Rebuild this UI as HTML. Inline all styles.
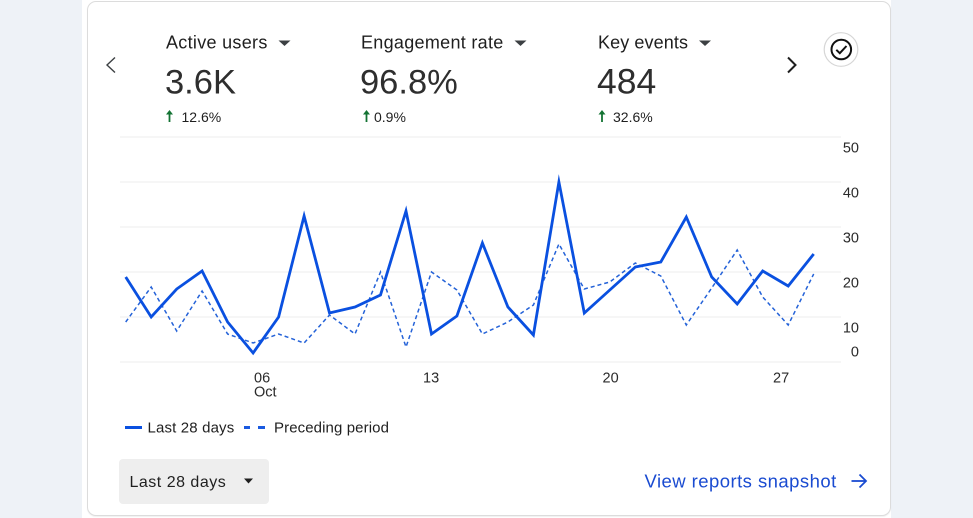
<!DOCTYPE html>
<html>
<head>
<meta charset="utf-8">
<style>
  html,body{margin:0;padding:0;}
  body{width:973px;height:518px;background:#eef2f7;position:relative;overflow:hidden;font-family:"Liberation Sans",Arial,sans-serif;}
  .strip{position:absolute;left:82px;top:0;width:809px;height:518px;background:#ffffff;}
  .card{position:absolute;left:87px;top:1px;width:802px;height:513px;border:1px solid #dcdcdc;border-radius:9px;background:#fff;box-shadow:0 1px 1px rgba(0,0,0,0.06);}
  svg{position:absolute;left:0;top:0;}
  text{font-family:"Liberation Sans",Arial,sans-serif;}
</style>
</head>
<body>
<div class="strip"></div>
<div class="card"></div>
<svg width="973" height="518" viewBox="0 0 973 518" xmlns="http://www.w3.org/2000/svg">
  <!-- nav chevrons -->
  <polyline points="115,57.5 107,65 115,72.5" fill="none" stroke="#3c4043" stroke-width="1.4"/>
  <polyline points="788,57.5 795.5,65 788,72.5" fill="none" stroke="#1f1f1f" stroke-width="2"/>

  <!-- check icon -->
  <circle cx="841" cy="49.5" r="16.8" fill="#fff" stroke="#d6d6d6" stroke-width="1.2"/>
  <circle cx="841.3" cy="49.5" r="9.8" fill="none" stroke="#111" stroke-width="2"/>
  <polyline points="836.3,49.8 839.8,53.2 846.5,46" fill="none" stroke="#111" stroke-width="2"/>

  <!-- metric headers -->
  <text x="166" y="48.5" font-size="18" fill="#1f1f1f" letter-spacing="0.3">Active users</text>
  <polygon points="278.5,40.5 290.5,40.5 284.5,46" fill="#3c4043"/>
  <text x="361" y="48.5" font-size="18" fill="#1f1f1f" letter-spacing="0.3">Engagement rate</text>
  <polygon points="514.5,40.5 526.5,40.5 520.5,46" fill="#3c4043"/>
  <text x="598" y="48.5" font-size="18" fill="#1f1f1f" letter-spacing="0.1">Key events</text>
  <polygon points="699,40.5 711,40.5 705,46" fill="#3c4043"/>

  <!-- values -->
  <text x="165" y="93.5" font-size="34.5" fill="#2e2e2e">3.6K</text>
  <text x="360" y="93.5" font-size="34.5" fill="#2e2e2e">96.8%</text>
  <text x="597" y="93.5" font-size="35.5" fill="#2e2e2e">484</text>

  <!-- changes -->
  <g fill="#137333" stroke="#137333">
    <line x1="169.5" y1="113" x2="169.5" y2="122" stroke-width="1.8"/>
    <polygon points="166,114.5 173,114.5 169.5,110" stroke="none"/>
    <line x1="366.5" y1="113" x2="366.5" y2="122" stroke-width="1.8"/>
    <polygon points="363,114.5 370,114.5 366.5,110" stroke="none"/>
    <line x1="602" y1="113" x2="602" y2="122" stroke-width="1.8"/>
    <polygon points="598.5,114.5 605.5,114.5 602,110" stroke="none"/>
  </g>
  <text x="181.5" y="122" font-size="14" fill="#1f1f1f">12.6%</text>
  <text x="374" y="122" font-size="14" fill="#1f1f1f">0.9%</text>
  <text x="613" y="122" font-size="14" fill="#1f1f1f">32.6%</text>

  <!-- gridlines -->
  <g stroke="#eeeeee" stroke-width="1">
    <line x1="120" y1="137" x2="841" y2="137"/>
    <line x1="120" y1="182" x2="841" y2="182"/>
    <line x1="120" y1="227" x2="841" y2="227"/>
    <line x1="120" y1="272" x2="841" y2="272"/>
    <line x1="120" y1="317" x2="841" y2="317"/>
    <line x1="120" y1="362" x2="841" y2="362"/>
  </g>

  <!-- y labels -->
  <g font-size="14.5" fill="#2a2a2a" text-anchor="end">
    <text x="859" y="152.5">50</text>
    <text x="859" y="197.5">40</text>
    <text x="859" y="242.5">30</text>
    <text x="859" y="287.5">20</text>
    <text x="859" y="332.5">10</text>
    <text x="859" y="356.5">0</text>
  </g>

  <!-- x labels -->
  <g font-size="14.5" fill="#2a2a2a">
    <text x="254" y="382.5">06</text>
    <text x="254" y="396.5">Oct</text>
    <text x="423" y="382.5">13</text>
    <text x="602.5" y="382.5">20</text>
    <text x="773" y="382.5">27</text>
  </g>

  <!-- series -->
  <polyline fill="none" stroke="#2462d8" stroke-width="1.5" stroke-dasharray="4,3"
    points="125.7,322 151.2,287 176.7,331 202.1,291 227.6,334 253.1,343 278.6,334 304.1,343 329.5,315 355,334 380.5,272 406,347 431.5,272 456.9,290 482.4,334 507.9,322 533.4,305 558.9,244 584.3,289 609.8,282 635.3,263 660.8,276 686.3,325 711.7,288 737.2,250 762.7,297 788.2,325 813.7,274"/>
  <polyline fill="none" stroke="#0a50e0" stroke-width="2.8" stroke-linejoin="miter" stroke-miterlimit="10"
    points="125.7,277 151.2,317 176.7,289 202.1,271 227.6,322 253.1,353 278.6,317 304.1,216 329.5,313 355,307 380.5,295 406,211 431.5,334 456.9,316 482.4,243 507.9,307 533.4,335 558.9,182 584.3,313 609.8,290 635.3,267 660.8,262 686.3,217 711.7,277 737.2,304 762.7,271 788.2,286 813.7,254"/>

  <!-- legend -->
  <line x1="125" y1="427.5" x2="142" y2="427.5" stroke="#0a50e0" stroke-width="3"/>
  <text x="147.5" y="432.5" font-size="15" fill="#1f1f1f" letter-spacing="0.15">Last 28 days</text>
  <line x1="244" y1="427.5" x2="250" y2="427.5" stroke="#1a5ae0" stroke-width="3"/>
  <line x1="258" y1="427.5" x2="265" y2="427.5" stroke="#1a5ae0" stroke-width="3"/>
  <text x="274" y="432.5" font-size="15" fill="#1f1f1f" letter-spacing="0.1">Preceding period</text>

  <!-- button -->
  <rect x="119" y="459" width="150" height="45" rx="4" fill="#eeeeee"/>
  <text x="129.5" y="487" font-size="16" fill="#1f1f1f" letter-spacing="0.5">Last 28 days</text>
  <polygon points="244,478.5 253,478.5 248.5,483.5" fill="#1f1f1f"/>

  <!-- link -->
  <text x="644.5" y="487.5" font-size="18.5" fill="#1a4bd1" letter-spacing="0.45">View reports snapshot</text>
  <g stroke="#1a4bd1" stroke-width="1.8" fill="none">
    <line x1="851.5" y1="481" x2="866" y2="481"/>
    <polyline points="859.5,474.5 866,481 859.5,487.5"/>
  </g>
</svg>
</body>
</html>
